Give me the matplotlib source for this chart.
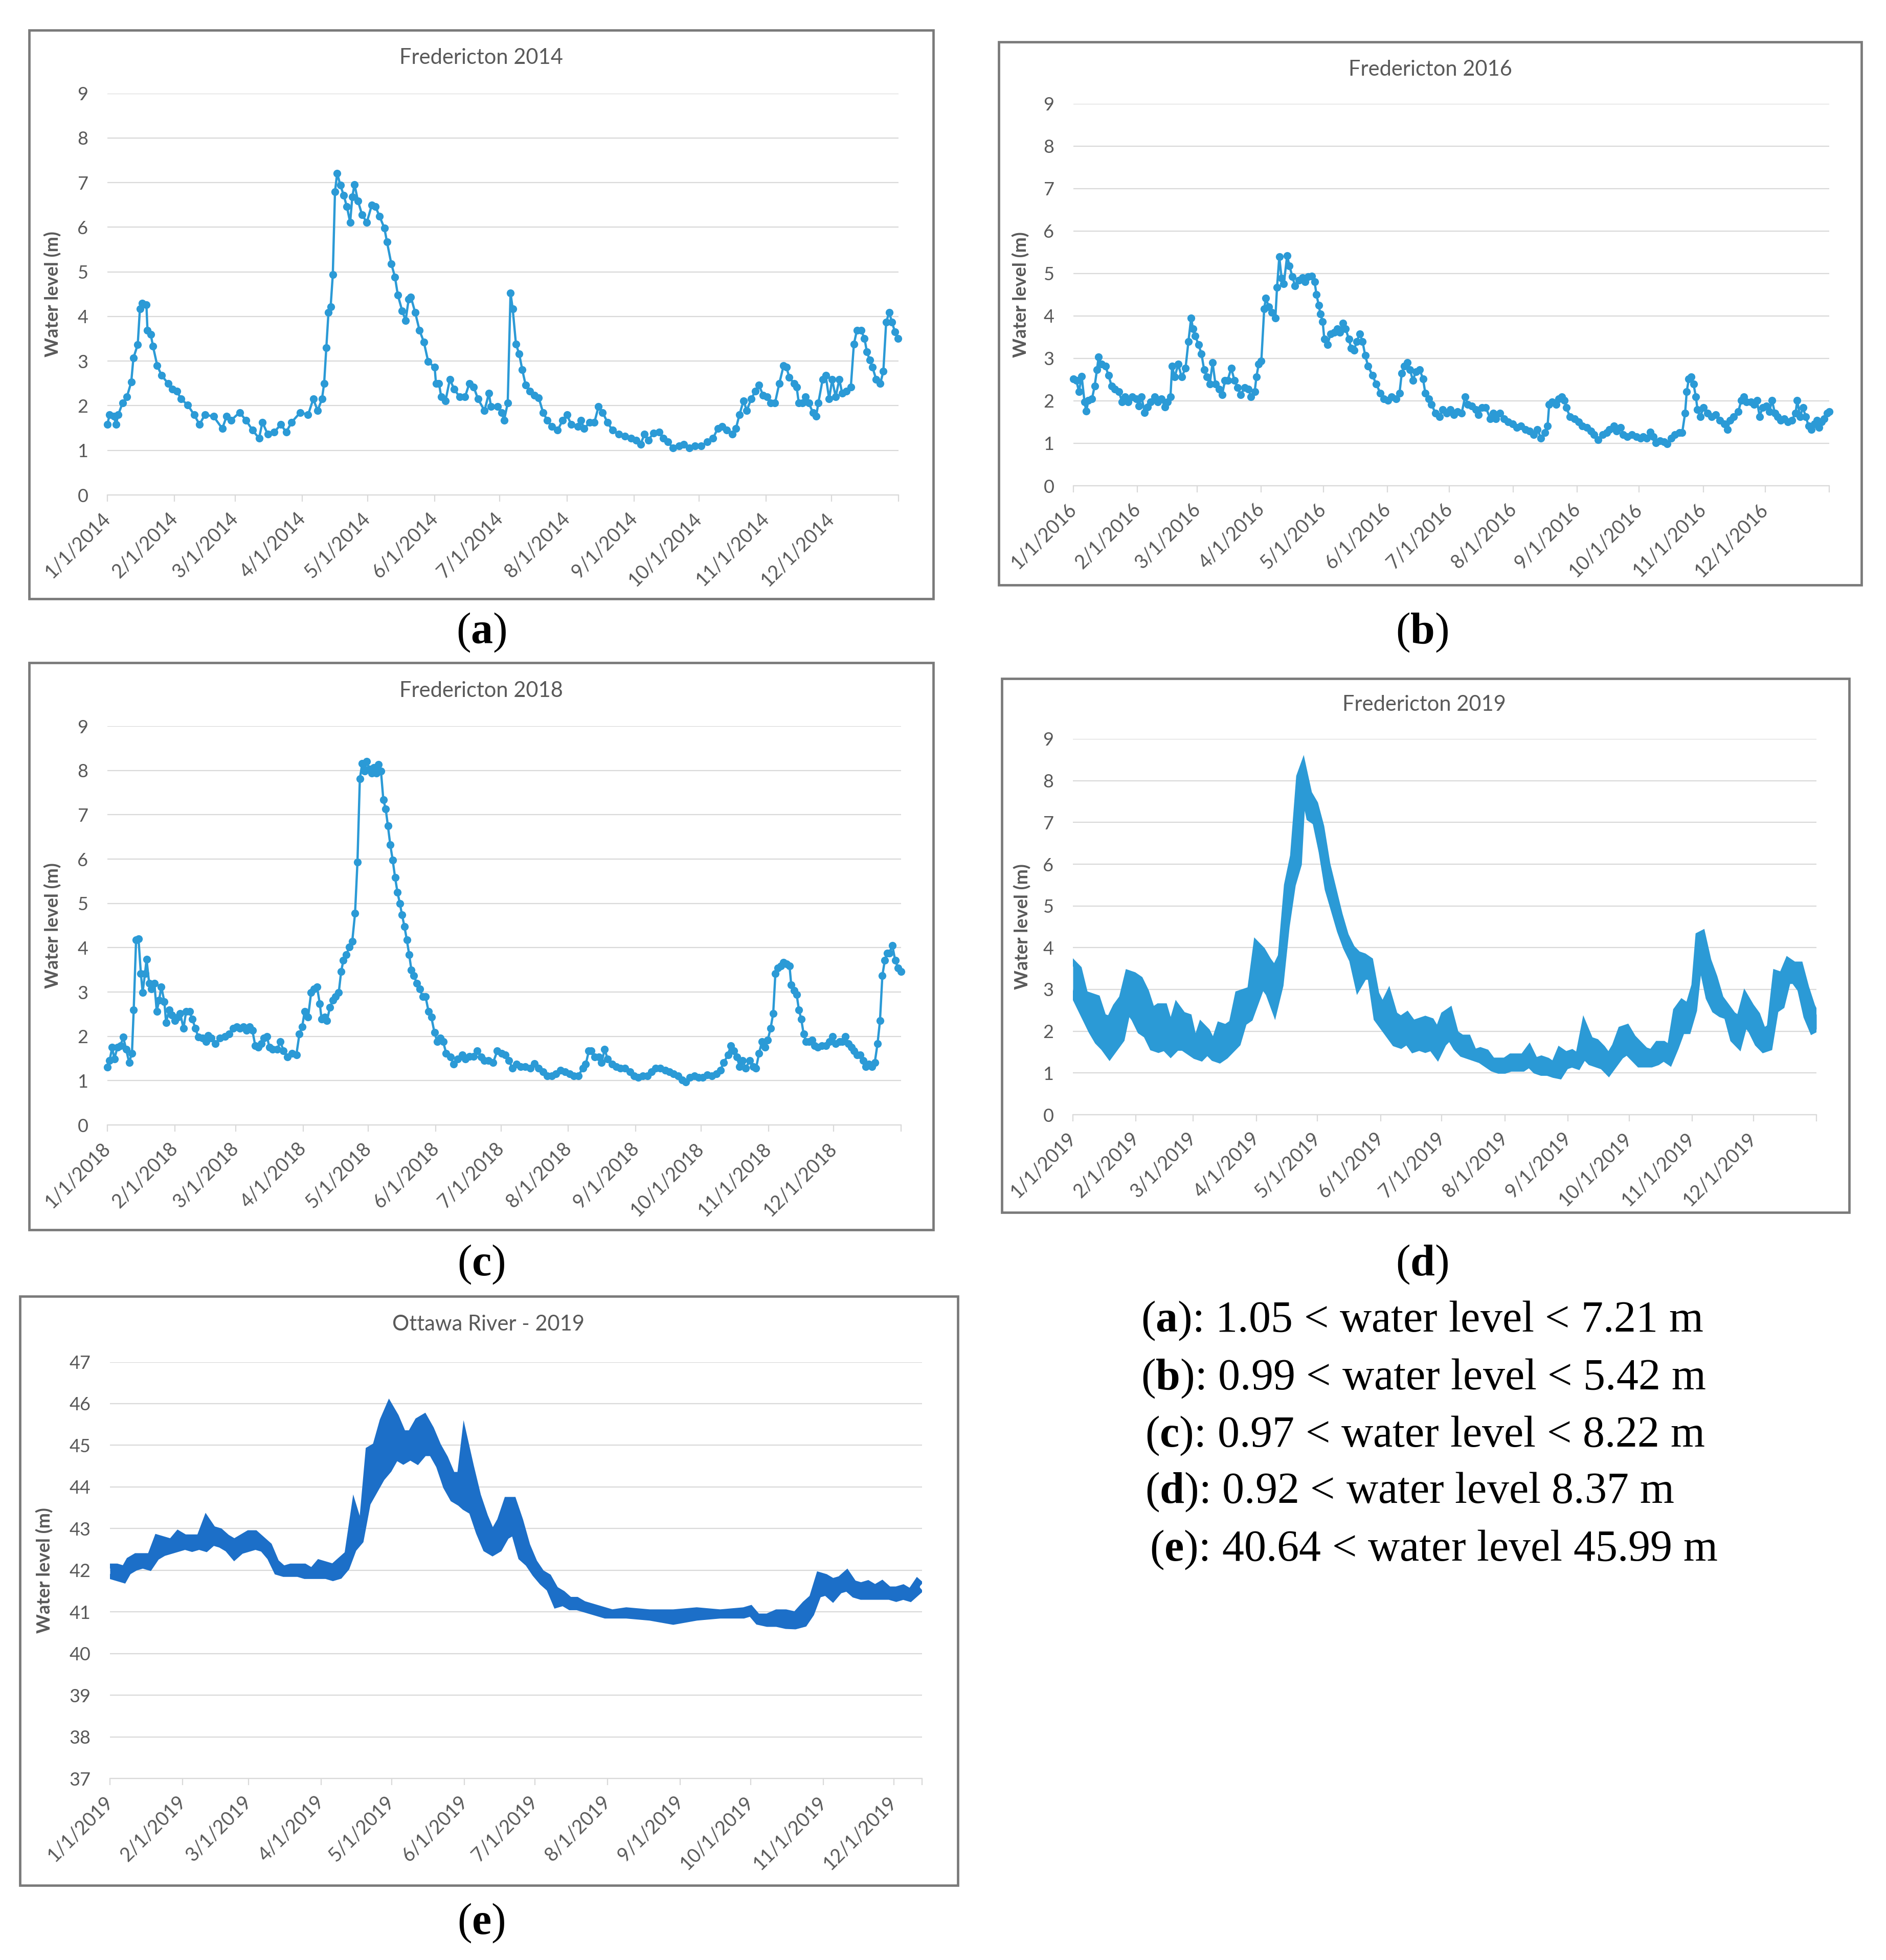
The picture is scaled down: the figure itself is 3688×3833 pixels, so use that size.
import matplotlib
matplotlib.use("Agg")
import matplotlib.pyplot as plt
from matplotlib.patches import Rectangle
import numpy as np
import pandas as pd

plt.rcParams['font.family'] = ['Lato', 'DejaVu Sans']
plt.rcParams['mathtext.fontset'] = 'custom'
plt.rcParams['mathtext.rm'] = 'Liberation Serif'
plt.rcParams['mathtext.bf'] = 'Liberation Serif:bold'

# --- data: (day of year, water level m) ---
fred2014 = [(0,1.58),(1,1.80),(3,1.76),(4,1.58),(5,1.80),(7,2.06),(9,2.20),(11,2.53),(12,3.07),(14,3.37),(15,4.17),(16,4.30),(18,4.26),(18.5,3.69),(20,3.60),(21,3.34),(23,2.90),(25,2.68),(28,2.50),(30,2.37),(32,2.33),(34,2.15),(37,2.02),(40,1.80),(42.5,1.58),(45,1.80),(49,1.76),(53,1.49),(55,1.76),(57,1.67),(61,1.85),(64,1.67),(67,1.45),(70,1.27),(71.5,1.63),(74,1.36),(77,1.41),(80,1.58),(82.5,1.41),(85,1.63),(89,1.85),(92.6,1.80),(95,2.15),(97,1.89),(99,2.15),(100,2.50),(101,3.30),(102,4.09),(103,4.22),(104,4.94),(105,6.79),(106,7.21),(107.5,6.94),(109,6.72),(110.5,6.46),(112,6.11),(113,6.68),(114,6.96),(115.6,6.59),(117.5,6.28),(119.7,6.11),(122,6.50),(123.7,6.46),(125.6,6.24),(127.8,5.98),(129,5.67),(131,5.18),(132.7,4.88),(134,4.48),(136,4.13),(137.6,3.91),(139,4.39),(140,4.44),(142,4.09),(144,3.69),(146,3.43),(148,2.99),(151,2.86),(151.6,2.50),(153,2.50),(154,2.20),(156,2.11),(158,2.59),(160,2.37),(162.5,2.20),(165,2.20),(167,2.50),(169,2.42),(171,2.15),(174,1.89),(176,2.28),(177,1.98),(180,1.98),(182,1.85),(183,1.67),(184.7,2.06),(186,4.53),(187,4.17),(188.5,3.38),(190,3.16),(191.4,2.81),(193,2.46),(195,2.33),(197,2.24),(199,2.18),(201,1.85),(203,1.67),(205,1.54),(207.7,1.45),(210,1.67),(212,1.80),(214,1.58),(217,1.54),(218.5,1.67),(220,1.49),(222.6,1.63),(224.7,1.63),(226.6,1.98),(228.5,1.85),(230.7,1.63),(233,1.45),(236,1.36),(238.8,1.32),(241.5,1.27),(244,1.23),(246,1.14),(247.8,1.36),(249.6,1.23),(252,1.39),(254.5,1.41),(256.4,1.27),(258.6,1.19),(261,1.05),(263.7,1.10),(266,1.14),(268.6,1.05),(271,1.10),(274,1.10),(276.7,1.19),(279.4,1.27),(281.6,1.49),(283.5,1.54),(285.7,1.45),(288.4,1.36),(290,1.49),(291.6,1.80),(293.5,2.11),(295,1.89),(297,2.15),(299,2.33),(300.6,2.46),(302.5,2.24),(304.4,2.20),(306,2.06),(308,2.06),(310,2.50),(312,2.90),(313.3,2.86),(314.6,2.64),(316.8,2.50),(318,2.42),(319,2.06),(320.6,2.06),(322,2.20),(323.6,2.06),(325.5,1.85),(327,1.76),(328,2.06),(330,2.59),(331.4,2.68),(333,2.15),(334.4,2.59),(336,2.20),(337.7,2.59),(339,2.28),(341,2.33),(343,2.42),(344.4,3.38),(345.8,3.69),(347.7,3.69),(349.3,3.51),(350.4,3.21),(351.7,3.03),(353,2.86),(354.7,2.59),(356.6,2.50),(358,2.77),(359.3,3.87),(360.7,4.09),(362,3.87),(363.4,3.65),(364.7,3.51)]

fred2016 = [(0,2.52),(1.4,2.48),(2.7,2.22),(4,2.58),(5.4,1.97),(6.2,1.76),(7.3,2.01),(9,2.05),(10.3,2.35),(11.4,2.73),(12.2,3.03),(13.6,2.86),(15.5,2.82),(17,2.60),(18.5,2.35),(20,2.27),(22,2.22),(23.6,1.97),(25,2.10),(26.6,1.97),(28.5,2.10),(30.4,2.05),(31.8,1.88),(33,2.10),(34.5,1.72),(36,1.85),(37.5,1.97),(39.4,2.10),(40.8,1.97),(42.7,2.05),(44.3,1.85),(45.6,1.97),(47,2.10),(47.8,2.82),(49,2.56),(50.8,2.86),(52.4,2.56),(54.3,2.77),(55.7,3.40),(57,3.95),(57.9,3.70),(59,3.53),(60.6,3.32),(62,3.11),(63.3,2.73),(64.7,2.56),(66,2.39),(67.4,2.90),(68.8,2.39),(70.6,2.27),(72,2.14),(73.4,2.48),(74.7,2.48),(76.4,2.77),(78,2.48),(79.6,2.31),(81,2.14),(82.9,2.31),(84.8,2.27),(86,2.10),(87.8,2.22),(88.6,2.56),(89.7,2.86),(91,2.94),(92.4,4.17),(93.2,4.42),(94.6,4.21),(96.2,4.08),(97.8,3.95),(98.6,4.67),(99.7,5.39),(100.8,4.89),(101.9,4.76),(103.5,5.42),(104.6,5.18),(106,4.93),(107.3,4.71),(109.2,4.84),(110.9,4.90),(112.2,4.80),(113.6,4.93),(115.5,4.94),(116.8,4.80),(117.7,4.50),(118.8,4.25),(119.6,4.04),(120.7,3.87),(121.5,3.45),(123,3.32),(124.5,3.57),(126.4,3.61),(127.7,3.70),(129,3.61),(130.4,3.83),(131.8,3.70),(133.4,3.45),(134.5,3.24),(135.9,3.19),(137.2,3.40),(138.6,3.57),(140,3.40),(141.3,3.07),(142.7,2.82),(144.8,2.60),(146.7,2.39),(148.6,2.18),(150.3,2.05),(152.2,2.01),(154,2.10),(156.3,2.05),(157.9,2.18),(159,2.65),(160.3,2.82),(161.7,2.90),(163,2.73),(164.4,2.48),(165.8,2.69),(167.7,2.73),(169.3,2.52),(170.4,2.18),(172,2.05),(173.4,1.92),(175.3,1.71),(177.2,1.63),(178.8,1.80),(180.7,1.71),(182.6,1.80),(184.2,1.67),(186,1.75),(188,1.71),(189.7,2.10),(191,1.92),(193,1.88),(194.8,1.80),(196.2,1.67),(197.8,1.84),(199.7,1.84),(201.9,1.58),(203.3,1.71),(204.6,1.58),(206.5,1.71),(208.4,1.58),(210.6,1.50),(212.8,1.46),(214.7,1.37),(216.6,1.41),(218.8,1.33),(221,1.29),(222.8,1.20),(224.7,1.33),(226.4,1.12),(228.3,1.25),(229.6,1.41),(230.4,1.92),(231.8,1.97),(233.7,1.92),(235,2.05),(236.4,2.10),(237.8,2.01),(238.6,1.84),(240.5,1.63),(242.7,1.58),(244.6,1.50),(246.5,1.41),(248.6,1.37),(250.5,1.29),(252.2,1.20),(254,1.08),(256.2,1.20),(258.2,1.25),(259.5,1.33),(261.7,1.41),(263,1.29),(265,1.37),(266.3,1.20),(268.2,1.16),(270.4,1.20),(272.6,1.16),(274.5,1.12),(275.8,1.16),(277.7,1.12),(279.3,1.26),(280.7,1.16),(282,1.01),(284,1.06),(286.1,1.03),(287.5,0.99),(289.4,1.12),(291.3,1.20),(293.5,1.25),(294.8,1.25),(296.2,1.71),(297,2.22),(298,2.52),(299.2,2.56),(300.3,2.39),(301.4,2.10),(302.2,1.80),(303.5,1.63),(305.2,1.84),(307,1.71),(309,1.63),(311,1.67),(313,1.54),(315.2,1.46),(316.6,1.33),(318,1.54),(319.8,1.63),(322,1.75),(323.4,2.01),(324.7,2.10),(326,1.97),(328,1.97),(329.6,1.92),(331,2.01),(332.3,1.63),(333.7,1.84),(335.6,1.88),(337,1.75),(338.3,2.01),(339.7,1.71),(341,1.63),(342.4,1.54),(344.3,1.58),(346,1.50),(347.8,1.54),(349.7,1.71),(350.5,2.01),(351.9,1.63),(353.3,1.84),(354.6,1.63),(356,1.41),(357.3,1.33),(358.7,1.46),(360,1.54),(361.1,1.37),(362.2,1.50),(363.6,1.58),(365,1.71),(366,1.75)]

fred2018 = [(0,1.30),(1,1.45),(2.2,1.75),(3.2,1.49),(4.6,1.75),(6,1.79),(7.3,1.98),(8.6,1.71),(10,1.41),(11.3,1.62),(12.1,2.60),(13.2,4.18),(14.3,4.20),(15.4,3.42),(16.2,2.99),(17.3,3.42),(18,3.74),(19.2,3.20),(20.2,3.07),(21.6,3.20),(22.7,2.56),(23.8,2.82),(24.8,3.12),(26.2,2.78),(27,2.31),(28.4,2.60),(29.7,2.48),(31,2.35),(32.4,2.43),(33.5,2.52),(35,2.18),(36.2,2.56),(37.8,2.56),(39,2.39),(40.5,2.18),(41.8,1.98),(43.7,1.96),(45.4,1.88),(46.4,2.02),(47.8,1.96),(49.7,1.84),(51.8,1.96),(54,2.00),(55.9,2.05),(57.8,2.18),(59.4,2.22),(61,2.18),(62.6,2.22),(64,2.13),(65.3,2.22),(66.7,2.13),(68,1.79),(69.4,1.75),(70.7,1.84),(72,1.96),(73.4,2.00),(74.5,1.75),(76,1.71),(78,1.71),(79.6,1.88),(81,1.67),(82.9,1.54),(84.8,1.62),(86.9,1.58),(88.3,2.05),(89.6,2.22),(90.7,2.56),(92.3,2.43),(93.7,2.99),(95,3.07),(96.4,3.12),(97.7,2.73),(98.5,2.39),(99.9,2.43),(101,2.35),(102.3,2.65),(103.7,2.82),(105,2.90),(106.4,2.99),(107.5,3.46),(108.5,3.71),(109.9,3.84),(111.2,4.01),(112.6,4.14),(113.9,4.78),(115,5.93),(116.1,7.81),(117.2,8.16),(118.2,7.99),(119.3,8.20),(120.4,8.03),(121.5,7.94),(122.6,8.07),(123.6,7.94),(124.7,8.13),(125.8,7.99),(126.9,7.34),(128,7.13),(129,6.75),(130.1,6.32),(131.2,5.98),(132.3,5.59),(133.4,5.25),(134.5,5.00),(135.5,4.74),(136.6,4.48),(137.7,4.18),(138.8,3.84),(139.8,3.50),(140.9,3.37),(142.3,3.20),(143.6,3.07),(145,2.90),(146.3,2.90),(147.7,2.56),(149,2.43),(150.4,2.09),(151.7,1.88),(153.1,1.96),(154.4,1.88),(155.8,1.62),(157.7,1.54),(159.3,1.37),(161.2,1.49),(163.1,1.58),(164.7,1.49),(166.6,1.55),(168.5,1.55),(170.1,1.67),(172,1.54),(173.3,1.45),(175.2,1.45),(177.4,1.41),(179.3,1.67),(181.4,1.62),(183,1.58),(184.7,1.45),(186.3,1.28),(188.2,1.37),(190,1.32),(192.2,1.32),(194.4,1.28),(196.3,1.38),(198.2,1.28),(200.3,1.20),(202.2,1.11),(204.4,1.11),(206.3,1.15),(208.4,1.24),(210.6,1.20),(212.5,1.15),(214.4,1.11),(216.5,1.11),(218.7,1.28),(220,1.37),(221.4,1.67),(222.5,1.67),(224.1,1.54),(226,1.54),(227.3,1.41),(228.7,1.71),(230,1.49),(232.2,1.37),(234,1.32),(236,1.28),(238.1,1.28),(240.3,1.20),(242.2,1.11),(244,1.07),(246.2,1.11),(248.4,1.11),(250.3,1.20),(252.2,1.28),(254.3,1.28),(256.5,1.24),(258.4,1.20),(260.3,1.15),(262.4,1.11),(264.3,1.02),(265.9,0.97),(267.8,1.07),(270,1.11),(271.9,1.07),(273.8,1.07),(275.9,1.13),(278,1.11),(280,1.15),(281.9,1.24),(283.5,1.41),(285.4,1.58),(286.7,1.79),(288,1.67),(289.4,1.54),(290.8,1.32),(292.1,1.45),(293.5,1.28),(295.4,1.45),(297,1.32),(298.3,1.28),(299.7,1.62),(301,1.88),(302.4,1.75),(303.7,1.92),(305,2.18),(306.2,2.52),(307.2,3.42),(308.3,3.54),(309.7,3.59),(311,3.67),(312.4,3.63),(313.7,3.59),(314.5,3.16),(315.9,3.03),(317,2.94),(318,2.60),(319.1,2.39),(320.2,2.05),(321.3,1.88),(322.6,1.88),(324,1.92),(325.3,1.79),(326.7,1.75),(328.6,1.79),(330.4,1.79),(332,1.88),(333.4,2.00),(334.8,1.84),(336.7,1.88),(338,1.88),(339.4,2.00),(340.7,1.84),(342.1,1.75),(343.4,1.67),(344.8,1.58),(346.1,1.58),(347.5,1.45),(348.8,1.32),(350.2,1.37),(351.5,1.32),(352.9,1.41),(354.2,1.84),(355.3,2.35),(356.4,3.37),(357.5,3.71),(358.6,3.88),(359.6,3.88),(361,4.05),(362.3,3.71),(363.7,3.54),(365,3.46)]

# dense records: (day, low, high) envelope of the band
fred2019 = [(0,2.90,3.65),(3,2.60,3.50),(6,2.30,2.90),(9,2.00,2.85),(12,1.75,2.80),(15,1.60,2.35),(18,1.40,2.30),(21,1.60,2.60),(24,1.80,2.80),(27,2.50,3.40),(30,2.30,3.35),(33,2.00,3.25),(36,1.90,2.95),(39,1.60,2.50),(42,1.55,2.60),(45,1.60,2.60),(48,1.45,2.10),(51,1.60,2.60),(54,1.60,2.40),(57,1.50,2.35),(60,1.40,1.70),(63,1.35,2.15),(66,1.50,2.00),(69,1.35,1.70),(72,1.30,2.15),(75,1.40,2.10),(78,1.55,2.20),(81,1.70,2.90),(84,2.20,2.95),(87,2.30,3.00),(90,2.70,4.10),(93,3.10,3.95),(96,2.90,3.70),(99,2.50,3.50),(102,3.10,3.80),(105,4.50,5.50),(108,5.50,6.20),(111,6.00,8.10),(113,7.80,8.37),(116,7.10,7.70),(119,7.00,7.45),(122,6.30,6.90),(125,5.40,6.00),(128,4.90,5.40),(131,4.40,4.80),(134,4.00,4.30),(137,3.70,4.00),(140,3.05,3.85),(143,3.30,3.80),(146,3.30,3.70),(149,2.30,2.90),(152,2.10,2.60),(155,1.90,2.90),(158,1.70,2.40),(161,1.65,2.30),(164,1.75,2.40),(167,1.55,2.20),(170,1.60,2.25),(173,1.55,2.30),(176,1.60,2.25),(179,1.40,2.00),(182,1.70,2.40),(185,1.85,2.50),(188,1.60,1.95),(191,1.45,1.85),(194,1.40,1.85),(197,1.35,1.50),(200,1.30,1.55),(203,1.20,1.50),(206,1.10,1.30),(209,1.05,1.30),(212,1.05,1.30),(215,1.10,1.40),(218,1.10,1.40),(221,1.10,1.40),(224,1.20,1.60),(227,1.05,1.30),(230,1.00,1.35),(233,1.00,1.30),(236,0.95,1.20),(239,0.92,1.55),(242,1.15,1.45),(245,1.20,1.50),(248,1.15,1.40),(251,1.40,2.15),(254,1.25,1.80),(257,1.20,1.75),(260,1.15,1.60),(263,1.00,1.40),(266,1.20,1.65),(269,1.40,2.05),(272,1.50,2.10),(275,1.35,1.85),(278,1.20,1.70),(281,1.20,1.55),(284,1.20,1.50),(287,1.25,1.70),(290,1.35,1.70),(293,1.25,1.60),(296,1.60,2.50),(299,2.00,2.70),(302,2.00,2.60),(305,2.50,3.10),(307,3.40,4.30),(309,3.50,4.35),(312,2.80,3.70),(315,2.50,3.30),(318,2.40,2.80),(321,2.35,2.60),(324,1.80,2.40),(327,1.65,2.30),(330,2.20,2.85),(333,2.00,2.60),(336,1.70,2.40),(339,1.55,2.00),(342,1.60,2.10),(345,2.50,3.40),(348,2.60,3.35),(351,3.20,3.70),(354,3.20,3.60),(357,3.00,3.60),(360,2.35,3.05),(363,2.00,2.60),(365,2.05,2.40)]

ottawa2019 = [(0,41.85,42.10),(3,41.80,42.10),(6,41.75,42.05),(8,41.95,42.25),(11,42.05,42.35),(14,42.10,42.35),(17,42.05,42.35),(20,42.30,42.80),(23,42.40,42.75),(26,42.45,42.70),(29,42.50,42.90),(32,42.55,42.80),(35,42.50,42.80),(38,42.55,42.80),(41,42.50,43.25),(44,42.65,43.00),(47,42.60,42.95),(50,42.50,42.80),(53,42.30,42.70),(56,42.45,42.80),(59,42.50,42.90),(62,42.55,42.90),(65,42.50,42.75),(68,42.30,42.60),(71,41.95,42.20),(74,41.90,42.05),(77,41.90,42.10),(80,41.90,42.10),(83,41.85,42.10),(86,41.85,42.00),(89,41.85,42.20),(92,41.85,42.15),(95,41.80,42.10),(98,41.85,42.25),(101,42.05,42.40),(104,42.50,43.55),(107,42.70,43.00),(110,43.60,44.90),(113,43.90,45.00),(116,44.20,45.60),(119,44.40,45.99),(122,44.70,45.70),(125,44.60,45.30),(128,44.70,45.30),(131,44.60,45.60),(134,44.80,45.70),(137,44.80,45.40),(140,44.50,45.00),(143,44.00,44.70),(146,43.70,44.30),(149,43.60,44.30),(151,43.50,45.25),(154,43.40,44.50),(157,42.90,43.80),(160,42.50,43.30),(163,42.40,42.90),(166,42.50,43.20),(169,42.80,43.70),(172,42.90,43.70),(175,42.30,43.20),(178,42.15,42.60),(181,41.90,42.20),(184,41.70,41.95),(187,41.55,41.85),(190,41.15,41.55),(193,41.20,41.45),(196,41.10,41.30),(199,41.10,41.30),(202,41.05,41.20),(205,41.00,41.15),(208,40.95,41.10),(211,40.90,41.05),(214,40.90,41.00),(220,40.90,41.05),(230,40.85,41.00),(240,40.75,41.00),(250,40.85,41.05),(260,40.90,41.00),(270,40.90,41.05),(273,40.95,41.10),(276,40.75,40.90),(280,40.70,40.90),(284,40.70,41.00),(288,40.65,41.00),(292,40.64,40.95),(296,40.70,41.20),(299,40.95,41.35),(302,41.40,41.90),(305,41.45,41.85),(308,41.30,41.75),(311,41.50,41.80),(314,41.55,41.95),(317,41.40,41.70),(320,41.35,41.65),(323,41.35,41.70),(326,41.35,41.60),(329,41.35,41.70),(332,41.35,41.55),(335,41.30,41.55),(338,41.35,41.60),(341,41.30,41.50),(344,41.45,41.75),(345,41.50,41.70)]

captions = [r"($\mathbf{a}$): 1.05 < water level < 7.21 m",
            r"($\mathbf{b}$): 0.99 < water level < 5.42 m",
            r"($\mathbf{c}$): 0.97 < water level < 8.22 m",
            r"($\mathbf{d}$): 0.92 < water level 8.37 m",
            r"($\mathbf{e}$): 40.64 < water level 45.99 m"]

TXT = '#595959'
GRID = '#d9d9d9'
BLUE = '#2b9ad6'
BLUE_E = '#1c6fc8'
W, H = 3688, 3833


def fx(px):
    return px / W


def fy(py):
    return 1 - py / H


fig = plt.figure(figsize=(W / 100, H / 100), dpi=100)


def panel(box, frame, title, title_xy, year, xmax, ylim, ylab_x):
    # frame of the excel chart
    x0, y0, x1, y1 = frame
    fig.add_artist(Rectangle((fx(x0), fy(y1)), fx(x1 - x0), (y1 - y0) / H,
                             transform=fig.transFigure, fill=False,
                             ec='#7a7a7a', lw=3.4))
    fig.text(fx(title_xy[0]), fy(title_xy[1]), title, ha='center', va='center',
             fontsize=30, color=TXT)
    l, t, r, b = box
    ax = fig.add_axes([fx(l), fy(b), fx(r - l), (b - t) / H])
    ax.set_xlim(0, xmax)
    ax.set_ylim(*ylim)
    ax.set_yticks(np.arange(ylim[0], ylim[1] + 1))
    ax.grid(axis='y', color=GRID, lw=1.6)
    ax.set_axisbelow(True)
    for s in ['top', 'right', 'left']:
        ax.spines[s].set_visible(False)
    ax.spines['bottom'].set_color(GRID)
    ax.spines['bottom'].set_linewidth(1.6)
    starts = pd.date_range(f'{year}-01-01', periods=12, freq='MS')
    ticks = (starts - starts[0]).days
    ax.set_xticks(ticks)
    ax.set_xticks([xmax], minor=True)
    ax.set_xticklabels([f'{d.month}/1/{year}' for d in starts], rotation=45,
                       ha='right', va='center', rotation_mode='anchor')
    ax.tick_params(axis='x', which='both', length=9, width=1.6, color=GRID,
                   labelsize=27, labelcolor=TXT, pad=20)
    ax.tick_params(axis='y', length=0, labelsize=26, labelcolor=TXT, pad=27)
    ax.set_ylabel('Water level (m)', fontsize=26, fontweight='bold', color=TXT)
    ax.yaxis.set_label_coords(ylab_x, 0.5)
    return ax


def daily(ax, pts):
    d, v = np.array(pts).T
    ax.plot(d, v, color=BLUE, lw=3.2, marker='o', ms=10, mec=BLUE, mfc=BLUE,
            clip_on=False)


def band(ax, pts, color, lw):
    d, lo, hi = np.array(pts).T
    ax.fill_between(d, lo, hi, color=color, lw=0)
    ax.plot(d, lo, color=color, lw=lw, solid_joinstyle='miter')
    ax.plot(d, hi, color=color, lw=lw, solid_joinstyle='miter')


ax = panel((210, 182.6, 1757, 968), (57, 59, 1825, 1171), 'Fredericton 2014',
           (941, 113), 2014, 365, (0, 9), -0.058)
daily(ax, fred2014)

ax = panel((2099, 202.5, 3577, 950), (1953, 82, 3640, 1144), 'Fredericton 2016',
           (2797, 136), 2016, 366, (0, 9), -0.058)
daily(ax, fred2016)

ax = panel((210, 1420, 1762, 2200), (57, 1296, 1825, 2405), 'Fredericton 2018',
           (941, 1351), 2018, 365, (0, 9), -0.058)
daily(ax, fred2018)

ax = panel((2098, 1445, 3552, 2180), (1959, 1327, 3616, 2371), 'Fredericton 2019',
           (2785, 1378), 2019, 365, (0, 9), -0.056)
band(ax, fred2019, BLUE, 8)

ax = panel((215, 2663.5, 1803, 3478), (39, 2535, 1873, 3687), 'Ottawa River - 2019',
           (955, 2590), 2019, 346, (37, 47), -0.07)
band(ax, ottawa2019, BLUE_E, 7)

# sub-figure letters
serif = ['Liberation Serif', 'DejaVu Serif']
for lab, (x, y) in zip('abcde', [(941, 1237), (2781, 1237), (941, 2473),
                                 (2781, 2473), (941, 3761)]):
    fig.text(fx(x), fy(y), r'($\mathbf{%s}$)' % lab, fontsize=62, family=serif,
             ha='center', va='center')

for cap, (x, y) in zip(captions, [(2231, 2583), (2231, 2696), (2239, 2808),
                                  (2239, 2918), (2248, 3031)]):
    fig.text(fx(x), fy(y), cap, fontsize=62, family=serif, ha='left', va='center')

fig.savefig('out.png', dpi=100, facecolor='white')
